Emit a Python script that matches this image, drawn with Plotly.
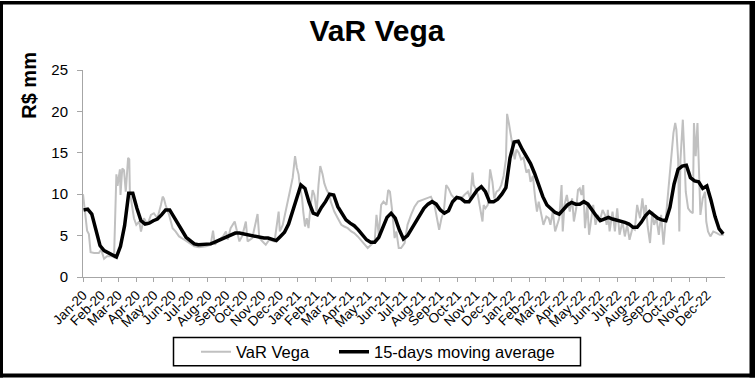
import pandas as pd
import plotly.graph_objects as go

# ---------------- data ----------------
month_labels = ["Jan-20", "Feb-20", "Mar-20", "Apr-20", "May-20", "Jun-20", "Jul-20", "Aug-20",
                "Sep-20", "Oct-20", "Nov-20", "Dec-20", "Jan-21", "Feb-21", "Mar-21", "Apr-21",
                "May-21", "Jun-21", "Jul-21", "Aug-21", "Sep-21", "Oct-21", "Nov-21", "Dec-21",
                "Jan-22", "Feb-22", "Mar-22", "Apr-22", "May-22", "Jun-22", "Jul-22", "Aug-22",
                "Sep-22", "Oct-22", "Nov-22", "Dec-22"]

# daily VaR Vega (sampled), day offset from 2020-01-01
gray_day = [0, 3, 7, 10, 13, 19, 27, 31, 36, 41, 50, 53, 57, 59, 63, 64, 67, 70, 73, 77,
            79, 80, 83, 87, 91, 96, 99, 104, 110, 116, 121, 127, 133, 136, 138, 141, 147, 153, 158, 164,
            173, 181, 190, 198, 210, 218, 222, 225, 232, 239, 244, 247, 252, 259,
            267, 272, 278, 281, 289, 298, 301, 309, 312, 318, 327, 334, 336, 341, 345, 349,
            353, 358, 362, 365, 368, 370, 374, 376, 379, 382, 385, 388, 392, 395, 399, 402,
            405, 409, 412, 416, 421, 423, 429, 435, 441, 446, 452, 458, 463, 469, 475, 480,
            486, 492, 498, 501, 505, 509, 513, 518, 521, 524, 528, 532, 535, 539,
            543, 549, 554, 560, 566, 572, 580, 589, 594, 600, 604, 608, 612, 616, 620, 624,
            629, 634, 640, 646, 651, 657, 661, 665, 667, 670, 674, 678, 682, 684, 687, 691,
            695, 699, 702, 706, 710, 714, 718, 722, 724, 727, 731, 734, 737, 740, 744, 748,
            752, 757, 761, 764, 768, 772, 775, 778, 782, 786, 791, 795, 798, 802, 806, 809, 813,
            817, 819, 822, 826, 831, 835, 838, 842, 845, 848, 851, 854, 857, 861, 864, 868,
            871, 875, 879, 882, 887, 891, 894, 896, 899, 904, 908, 912, 916, 921, 925, 929,
            933, 938, 942, 946, 951, 955, 958, 961, 964, 968, 972, 975, 979, 983, 987, 991,
            995, 998, 1001, 1005, 1008, 1011, 1013, 1016, 1018, 1020, 1024, 1026, 1029, 1033, 1037, 1041,
            1043, 1046, 1049, 1051, 1054, 1058, 1062, 1064, 1067, 1071, 1076, 1082, 1087, 1094]
gray_val = [10.0, 8.0, 5.6, 5.2, 3.0, 2.9, 2.9, 3.3, 2.2, 2.5, 2.5, 2.4, 12.4, 11.0, 13.0, 9.9, 13.1, 12.9, 10.3, 14.4,
            14.2, 10.3, 8.7, 7.1, 6.3, 6.7, 5.5, 7.1, 6.3, 7.5, 7.7, 7.1, 8.7, 9.7, 9.5, 8.7, 7.5, 5.9, 5.5, 4.9,
            4.5, 4.1, 3.7, 3.6, 3.7, 3.9, 5.6, 3.9, 4.5, 4.9, 5.5, 4.5, 5.9, 6.7,
            4.3, 5.0, 6.7, 4.3, 4.7, 7.6, 4.7, 4.1, 3.9, 4.5, 4.3, 7.9, 5.5, 6.3, 7.5, 8.7,
            10.3, 12.0, 14.6, 13.2, 12.4, 11.1, 9.5, 7.9, 6.1, 7.1, 5.9, 8.3, 10.5, 9.9, 7.9, 11.1,
            13.4, 12.4, 11.3, 10.5, 9.9, 9.1, 7.9, 7.1, 6.3, 6.1, 5.9, 5.5, 5.3, 4.9, 4.4, 3.9,
            3.5, 3.9, 4.3, 7.5, 5.1, 8.7, 9.1, 8.7, 10.5, 10.3, 7.9, 4.7, 5.5, 3.5,
            3.5, 4.1, 6.3, 7.5, 8.5, 9.1, 9.3, 9.5, 9.7, 8.7, 7.1, 5.7, 7.1, 7.9, 11.1, 10.7,
            9.9, 9.5, 9.5, 9.5, 9.9, 10.3, 9.5, 12.6, 11.1, 10.7, 9.9, 8.1, 6.7, 8.7, 8.3, 8.7,
            13.0, 11.5, 9.5, 10.3, 10.5, 11.1, 12.2, 14.2, 19.7, 18.6, 17.0, 15.4, 14.2, 15.4, 15.0, 14.2,
            14.4, 12.6, 13.0, 11.5, 12.2, 9.5, 7.9, 9.1, 7.5, 6.3, 7.3, 7.1, 6.3, 7.9, 5.5, 6.3, 7.1,
            11.1, 5.5, 8.7, 9.9, 7.9, 9.5, 6.7, 8.3, 10.5, 10.7, 9.9, 11.1, 5.9, 8.7, 5.1, 7.5,
            8.7, 6.3, 7.5, 6.7, 8.1, 7.5, 6.3, 8.1, 5.5, 7.9, 5.5, 8.3, 5.1, 6.7, 4.9, 6.3,
            4.5, 5.9, 5.7, 8.7, 7.1, 9.5, 7.5, 8.7, 6.1, 4.1, 7.9, 6.3, 7.1, 5.1, 7.5, 3.9,
            7.1, 9.5, 12.6, 15.0, 17.4, 18.6, 17.8, 14.2, 5.5, 14.2, 19.0, 15.8, 10.3, 8.3, 7.9, 7.7,
            18.6, 14.6, 18.6, 14.2, 7.5, 9.5, 10.3, 6.7, 5.5, 4.9, 5.5, 5.3, 5.1, 5.1]

# 15-days moving average, weekly readings starting 2020-01-02
ma_val = [8.1, 8.2, 7.6, 5.7, 3.8, 3.2, 2.9, 2.7, 2.4, 3.7,
          6.2, 10.1, 10.1, 8.3, 6.8, 6.4, 6.5, 6.8, 7.0, 7.5,
          8.1, 8.1, 7.3, 6.3, 5.5, 4.8, 4.4, 4.0, 3.9, 3.9,
          3.9, 4.0, 4.2, 4.4, 4.6, 4.8, 5.1, 5.3, 5.3, 5.2,
          5.0, 4.9, 4.9, 4.8, 4.7, 4.7, 4.6, 4.4, 4.9, 5.4,
          6.4, 8.0, 9.8, 11.1, 10.7, 9.0, 7.7, 7.5, 8.4, 9.1,
          10.0, 9.9, 8.5, 7.7, 6.9, 6.5, 6.2, 5.7, 5.1, 4.5,
          4.2, 4.2, 4.8, 5.9, 7.2, 7.7, 7.1, 5.7, 4.6, 5.0,
          5.8, 6.8, 7.6, 8.3, 8.8, 9.1, 8.8, 8.1, 7.7, 8.0,
          9.1, 9.6, 9.5, 9.1, 9.1, 9.8, 10.5, 10.9, 10.3, 9.1,
          9.1, 9.4, 10.0, 10.8, 14.4, 16.3, 16.4, 15.4, 14.5, 13.7,
          12.5, 11.1, 9.7, 8.7, 8.2, 7.8, 7.6, 8.1, 8.7, 9.0,
          8.8, 8.8, 9.1, 8.8, 8.0, 7.4, 6.8, 7.0, 7.2, 7.0,
          6.9, 6.8, 6.6, 6.4, 6.0, 6.0, 6.6, 7.4, 7.9, 7.5,
          7.1, 6.9, 6.8, 8.4, 11.2, 13.0, 13.4, 13.5, 12.0, 11.6,
          11.5, 10.7, 11.0, 9.3, 7.3, 5.8, 5.2]

if len(gray_day) != len(gray_val):
    raise ValueError(f"gray lengths {len(gray_day)} vs {len(gray_val)}")

start = pd.Timestamp("2020-01-01")
gray_dates = [start + pd.Timedelta(days=d) for d in gray_day]
ma_dates = pd.date_range("2020-01-02", periods=len(ma_val), freq="7D")
tick_dates = pd.date_range("2020-01-01", periods=len(month_labels), freq="MS")

# ---------------- layout geometry ----------------
W, H = 755, 382
L, R, T, B = 83, 30, 70, 102
PW, PH = W - L - R, H - T - B


def px2x(px):
    return (px - L) / PW


def py2y(py):
    return (T + PH - py) / PH


FONT = "Arial, Liberation Sans, sans-serif"
AXIS_GREY = "#a6a6a6"
LEG_FONT = dict(family=FONT, size=16.5, color="black")

fig = go.Figure()
fig.add_trace(go.Scatter(x=gray_dates, y=gray_val, mode="lines", name="VaR Vega",
                         line=dict(color="#c0c0c0", width=2), legend="legend"))
fig.add_trace(go.Scatter(x=ma_dates, y=ma_val, mode="lines", name="15-days moving average",
                         line=dict(color="#000000", width=3.5), legend="legend2"))

shapes = [
    # legend box
    dict(type="rect", xref="paper", yref="paper", x0=px2x(173.5), x1=px2x(580.5),
         y0=py2y(370), y1=py2y(341.5), line=dict(color="black", width=1.5), fillcolor="rgba(0,0,0,0)"),
    # outer frame
    dict(type="rect", xref="paper", yref="paper", x0=px2x(0), x1=px2x(755), y0=py2y(0), y1=py2y(3.5),
         line=dict(width=0), fillcolor="black"),
    dict(type="rect", xref="paper", yref="paper", x0=px2x(0), x1=px2x(755), y0=py2y(378), y1=py2y(382),
         line=dict(width=0), fillcolor="black"),
    dict(type="rect", xref="paper", yref="paper", x0=px2x(0), x1=px2x(3), y0=py2y(0), y1=py2y(382),
         line=dict(width=0), fillcolor="black"),
    dict(type="rect", xref="paper", yref="paper", x0=px2x(749.5), x1=px2x(755), y0=py2y(0), y1=py2y(382),
         line=dict(width=0), fillcolor="black"),
]

leg_common = dict(orientation="h", xanchor="left", yanchor="middle", y=py2y(356),
                  font=LEG_FONT, bgcolor="rgba(0,0,0,0)", borderwidth=0, itemwidth=30)

fig.update_layout(
    width=W, height=H, autosize=False,
    margin=dict(l=L, r=R, t=T, b=B, pad=0),
    paper_bgcolor="white", plot_bgcolor="white",
    font=dict(family=FONT, color="black", size=13),
    title=dict(text="<b>VaR Vega</b>", x=377 / W, xref="container", xanchor="center",
               y=1 - 30 / H, yref="container", yanchor="middle",
               font=dict(family=FONT, size=30, color="black")),
    showlegend=True,
    legend=dict(x=px2x(196), **leg_common),
    legend2=dict(x=px2x(334), **leg_common),
    shapes=shapes,
    annotations=[dict(text="<b>R$ mm</b>", textangle=-90, xref="paper", yref="paper",
                      x=px2x(29), y=py2y(86), xanchor="center", yanchor="middle", showarrow=False,
                      font=dict(family=FONT, size=20, color="black"))],
)

fig.update_xaxes(type="date", range=["2020-01-01", "2023-01-01"],
                 tickvals=tick_dates, ticktext=month_labels, tickangle=-45,
                 showgrid=False, zeroline=False, showline=True, linecolor=AXIS_GREY, linewidth=1,
                 ticks="outside", ticklen=4, tickcolor=AXIS_GREY, tickwidth=1,
                 tickfont=dict(family=FONT, size=13.5, color="black"))
fig.update_yaxes(range=[0, 25], tickvals=[0, 5, 10, 15, 20, 25],
                 showgrid=False, zeroline=False, showline=True, linecolor=AXIS_GREY, linewidth=1,
                 ticks="outside", ticklen=5, tickcolor=AXIS_GREY, tickwidth=1,
                 ticklabelstandoff=6,
                 tickfont=dict(family=FONT, size=15, color="black"))

post = ("document.documentElement.style.margin='0px';"
        "document.body.style.margin='0px';"
        "document.body.style.overflow='hidden';"
        "document.documentElement.style.overflow='hidden';")

fig.write_html("out.html", config={"displayModeBar": False, "responsive": False},
               post_script=post)
